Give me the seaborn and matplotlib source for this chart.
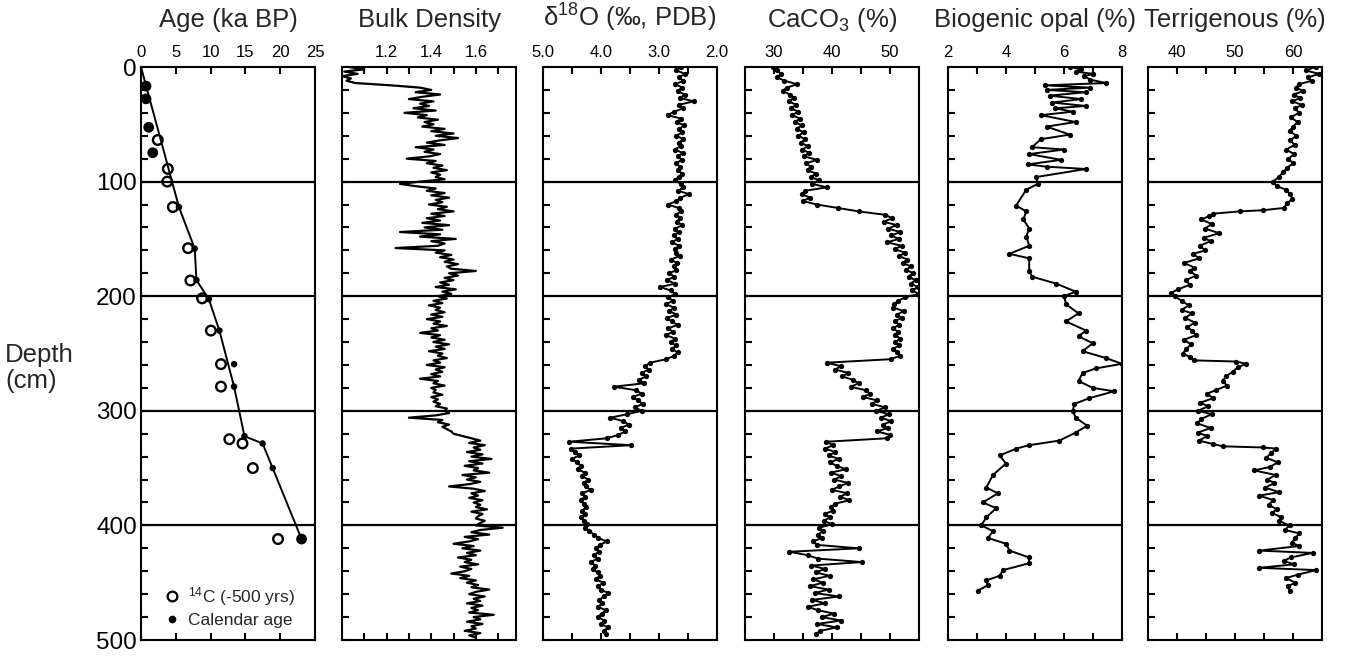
import numpy as np
import matplotlib.pyplot as plt
from matplotlib.lines import Line2D
import seaborn as sns

sns.set_style("ticks")
plt.rcParams['font.family'] = ['Liberation Sans', 'DejaVu Sans']
plt.rcParams['mathtext.fontset'] = 'custom'
plt.rcParams['mathtext.rm'] = 'Liberation Sans'

# ---- age model ----
c14_depth = [63.7, 88.9, 100, 122.2, 158.1, 186.3, 201.9, 230, 259.3, 278.9, 324.8, 328.5, 350, 411.9]
c14_age = [2.41, 3.86, 3.77, 4.58, 6.76, 7.1, 8.78, 10.04, 11.49, 11.49, 12.69, 14.58, 16.07, 19.69]
cal_depth = [16.7, 27.8, 52.6, 74.8, 122.2, 158.5, 185.9, 202.6, 230, 259.3, 278.9, 322.2, 328.5, 350, 411.9]
cal_age = [0.72, 0.72, 1.11, 1.69, 5.45, 7.72, 7.96, 9.75, 11.26, 13.37, 13.37, 14.87, 17.47, 18.92, 23.07]
model_depth = [0, 122.2, 158.5, 185.9, 202.6, 230, 278.9, 322.2, 328.5, 350, 411.9]
model_age = [0, 5.45, 7.72, 7.96, 9.75, 11.26, 13.37, 14.87, 17.47, 18.92, 23.07]

# ---- bulk density (every 2 cm) ----
bulk_depth = list(range(0, 500, 2))
bulk = [
    1.03, 1.10, 1.01, 1.07, 1.00, 1.04, 1.02, 1.06, 1.22, 1.35,
    1.40, 1.33, 1.44, 1.36, 1.30, 1.41, 1.35, 1.39, 1.32, 1.42,
    1.28, 1.38, 1.34, 1.43, 1.37, 1.41, 1.36, 1.46, 1.40, 1.50,
    1.42, 1.52, 1.44, 1.38, 1.46, 1.33, 1.41, 1.37, 1.44, 1.39,
    1.29, 1.42, 1.38, 1.45, 1.41, 1.47, 1.40, 1.44, 1.42, 1.46,
    1.35, 1.26, 1.33, 1.42, 1.38, 1.46, 1.40, 1.48, 1.42, 1.45,
    1.39, 1.47, 1.43, 1.50, 1.40, 1.46, 1.38, 1.44, 1.36, 1.48,
    1.37, 1.45, 1.26, 1.44, 1.35, 1.51, 1.40, 1.46, 1.43, 1.24,
    1.46, 1.42, 1.49, 1.44, 1.50, 1.46, 1.52, 1.47, 1.49, 1.60,
    1.48, 1.52, 1.46, 1.50, 1.44, 1.48, 1.42, 1.51, 1.45, 1.49,
    1.43, 1.47, 1.41, 1.45, 1.39, 1.44, 1.42, 1.46, 1.40, 1.45,
    1.38, 1.44, 1.41, 1.47, 1.40, 1.43, 1.35, 1.44, 1.40, 1.46,
    1.41, 1.48, 1.42, 1.46, 1.39, 1.45, 1.43, 1.47, 1.41, 1.44,
    1.38, 1.46, 1.42, 1.45, 1.40, 1.44, 1.35, 1.43, 1.41, 1.46,
    1.40, 1.42, 1.41, 1.45, 1.40, 1.43, 1.41, 1.44, 1.42, 1.47,
    1.46, 1.48, 1.42, 1.30, 1.45, 1.43, 1.48, 1.45, 1.47, 1.49,
    1.50, 1.54, 1.58, 1.62, 1.57, 1.64, 1.59, 1.62, 1.56, 1.63,
    1.58, 1.67, 1.57, 1.63, 1.55, 1.61, 1.59, 1.66, 1.54, 1.60,
    1.56, 1.62, 1.57, 1.48, 1.59, 1.64, 1.58, 1.61, 1.57, 1.63,
    1.59, 1.62, 1.60, 1.65, 1.58, 1.63, 1.61, 1.60, 1.64, 1.62,
    1.60, 1.72, 1.62, 1.58, 1.66, 1.55, 1.61, 1.57, 1.50, 1.59,
    1.54, 1.62, 1.56, 1.60, 1.52, 1.58, 1.55, 1.61, 1.53, 1.58,
    1.55, 1.49, 1.57, 1.53, 1.60, 1.56, 1.61, 1.58, 1.66, 1.60,
    1.57, 1.64, 1.59, 1.62, 1.56, 1.63, 1.58, 1.61, 1.57, 1.68,
    1.59, 1.62, 1.56, 1.63, 1.58, 1.60, 1.55, 1.62, 1.57, 1.60,
]

# ---- d18O (every 3 cm) ----
d18o_depth = list(range(0, 496, 3))
d18o = [
    2.62, 2.70, 2.55, 2.66, 2.58, 2.72, 2.60, 2.68, 2.56, 2.64,
    2.40, 2.66, 2.58, 2.74, 2.85, 2.62, 2.69, 2.57, 2.65, 2.60,
    2.70, 2.58, 2.66, 2.62, 2.73, 2.59, 2.67, 2.61, 2.70, 2.64,
    2.68, 2.60, 2.66, 2.73, 2.62, 2.58, 2.67, 2.48, 2.63, 2.70,
    2.85, 2.66, 2.62, 2.71, 2.64, 2.69, 2.60, 2.72, 2.66, 2.74,
    2.68, 2.78, 2.65, 2.73, 2.70, 2.64, 2.80, 2.69, 2.75, 2.70,
    2.82, 2.74, 2.86, 2.72, 2.98, 2.80, 2.72, 2.84, 2.76, 2.88,
    2.74, 2.82, 2.70, 2.86, 2.78, 2.68, 2.84, 2.76, 2.88, 2.72,
    2.80, 2.70, 2.78, 2.68, 2.74, 2.88, 3.15, 3.24, 3.18, 3.30,
    3.22, 3.35, 3.26, 3.78, 3.40, 3.30, 3.45, 3.36, 3.28, 3.42,
    3.30, 3.55, 3.84, 3.62, 3.52, 3.66, 3.58, 3.70, 3.90, 4.55,
    3.48, 4.52, 4.45, 4.38, 4.50, 4.42, 4.35, 4.40, 4.28, 4.33,
    4.22, 4.30, 4.26, 4.18, 4.32, 4.28, 4.35, 4.30, 4.26, 4.32,
    4.28, 4.34, 4.30, 4.25, 4.27, 4.20, 4.12, 4.05, 3.90, 4.02,
    4.08, 4.04, 4.12, 4.06, 4.18, 4.10, 4.14, 4.06, 4.02, 4.09,
    3.96, 4.05, 4.00, 3.88, 3.95, 4.03, 3.98, 4.05, 3.92, 3.98,
    4.06, 3.94, 4.00, 3.88, 3.95, 3.92,
]

# ---- CaCO3 (every 3 cm) ----
caco3_depth = list(range(0, 496, 3))
caco3 = [
    29.8, 30.6, 31.2, 30.5, 31.8, 34.0, 32.2, 31.5, 32.8, 33.4,
    32.6, 33.8, 32.9, 34.2, 33.1, 34.5, 33.6, 34.8, 33.9, 35.1,
    34.2, 35.4, 34.6, 35.8, 34.9, 36.0, 35.2, 37.4, 35.6, 36.3,
    35.8, 37.2, 36.4, 37.8, 36.6, 39.1, 35.4, 34.8, 36.2, 35.0,
    37.4, 41.0, 44.6, 49.2, 50.4, 48.9, 51.2, 49.6, 51.8, 50.2,
    51.5, 49.5, 52.0, 50.8, 52.6, 51.6, 53.0, 52.2, 53.6, 52.8,
    54.0, 53.2, 54.4, 53.6, 54.8, 53.8, 55.0, 52.6, 51.4, 50.7,
    50.6, 52.4, 51.2, 52.0, 50.8, 51.6, 50.5, 51.4, 50.9, 51.8,
    50.8, 51.5, 50.6, 51.2, 51.8, 50.1, 39.1, 41.5, 40.6, 42.8,
    41.8, 43.6, 44.6, 43.2, 45.8, 46.6, 45.4, 47.8, 46.9, 49.2,
    47.6, 49.8, 48.4, 50.2, 48.8, 49.6, 47.8, 50.0, 49.4, 39.0,
    40.2, 38.8, 40.6, 39.4, 41.2, 39.6, 40.8, 42.4, 39.8, 41.6,
    40.4, 42.8, 41.2, 40.0, 42.6, 41.4, 43.0, 40.6, 39.8, 40.2,
    38.8, 39.6, 38.6, 40.0, 37.8, 38.4, 37.6, 38.2, 36.8, 37.4,
    44.6, 32.6, 35.8, 37.6, 45.2, 36.4, 38.8, 37.2, 39.6, 36.8,
    38.4, 36.2, 39.4, 37.0, 41.2, 36.6, 38.8, 35.8, 37.6, 40.4,
    38.2, 41.6, 37.4, 40.8, 38.0, 37.2,
]

# ---- biogenic opal ----
opal_depth = [0, 2, 4, 6, 8, 11, 14, 16, 18, 20, 22, 25, 28, 31, 34, 36, 39, 42, 48, 52,
              59, 63, 70, 72, 76, 81, 85, 87, 89, 96, 102, 107, 121, 126, 133, 141, 148, 156, 163, 167,
              178, 183, 189, 196, 200, 207, 215, 222, 230, 235, 241, 248, 254, 259, 263, 267, 274, 280, 283, 289,
              294, 300, 306, 313, 319, 326, 330, 333, 339, 346, 356, 367, 372, 380, 385, 393, 400, 405, 411, 416,
              422, 428, 433, 439, 444, 448, 452, 457]
opal = [6.2, 6.6, 6.4, 7.0, 6.7, 6.9, 7.45, 5.35, 6.9, 5.4, 6.75, 5.5, 6.6, 5.6, 6.75, 5.7, 6.3, 5.2, 6.4, 5.4,
        6.2, 5.2, 4.9, 6.0, 4.8, 5.9, 4.75, 5.4, 6.76, 5.05, 5.1, 4.7, 4.35, 4.7, 4.6, 4.8, 4.7, 4.8, 4.12, 4.8,
        4.8, 4.9, 5.73, 6.4, 6.0, 6.07, 6.5, 6.07, 6.76, 6.5, 6.99, 6.64, 7.45, 8.0, 7.1, 6.64, 6.5, 6.99, 7.73, 6.87,
        6.36, 6.3, 6.4, 6.8, 6.4, 5.84, 4.8, 4.35, 3.78, 4.0, 3.55, 3.32, 3.72, 3.2, 3.66, 3.32, 3.15, 3.55, 3.38, 4.0,
        4.12, 4.8, 4.8, 3.9, 3.78, 3.32, 3.38, 3.03]

# ---- terrigenous ----
terr_depth = [0, 3, 6, 9, 12, 15, 18, 21, 24, 27, 30, 33, 36, 40, 44, 48, 52, 56, 60, 64,
              68, 72, 76, 80, 84, 88, 92, 96, 100, 104, 107, 111, 115, 119, 123, 125, 126, 128, 130, 133,
              137, 141, 145, 149, 152, 156, 160, 163, 167, 171, 175, 178, 182, 186, 190, 194, 197, 200, 204, 208,
              212, 215, 219, 223, 227, 230, 234, 238, 242, 246, 250, 253, 256, 257, 259, 262, 266, 270, 274, 278,
              282, 285, 289, 293, 296, 300, 303, 307, 311, 315, 319, 322, 326, 329, 331, 332, 333, 337, 341, 345,
              349, 352, 356, 360, 363, 367, 371, 374, 378, 382, 386, 389, 393, 396, 400, 404, 407, 411, 415, 418,
              422, 424, 428, 431, 434, 437, 439, 443, 446, 450, 453, 457]
terr = [63.9, 62.2, 64.5, 62.6, 63.2, 61.1, 60.5, 61.8, 60.1, 61.2, 59.9, 61.5, 60.4, 61.0, 59.6, 60.8, 60.0, 59.4, 60.6, 59.5,
        60.3, 58.8, 60.2, 59.2, 60.0, 59.0, 58.2, 57.6, 56.5, 57.2, 58.8, 59.5, 59.9, 59.0, 58.4, 54.8, 50.8, 46.2, 45.6, 44.2,
        46.0, 44.8, 47.3, 44.6, 45.8, 43.9, 44.9, 42.8, 43.8, 41.2, 43.0, 42.2, 43.3, 41.5, 42.2, 40.2, 39.0, 39.6, 40.8, 42.0,
        40.8, 42.6, 41.4, 43.1, 41.8, 42.6, 43.3, 41.2, 42.4, 41.6, 41.0, 42.2, 43.0, 50.2, 51.9, 50.5, 49.6, 48.4, 47.9, 48.6,
        46.7, 45.2, 46.2, 44.0, 45.4, 43.6, 46.0, 44.2, 43.5, 45.8, 43.6, 45.2, 43.8, 46.2, 47.9, 54.8, 57.1, 56.2, 55.4, 57.4,
        56.0, 53.3, 57.0, 55.6, 56.8, 55.2, 57.6, 54.2, 56.6, 55.8, 57.2, 56.4, 58.0, 57.6, 59.4, 58.6, 61.1, 60.4, 59.8, 61.0,
        54.2, 63.4, 59.6, 58.4, 60.2, 54.2, 64.0, 60.8, 58.8, 60.4, 59.2, 59.4]

fig = plt.figure(figsize=(13.61, 6.63), dpi=100)
W, H = 1361, 663
top, bot = 67, 640
lefts = [141, 342, 543, 745, 948, 1148]
width = 174

panels = [
    dict(title="Age (ka BP)", xlim=(0, 25), ticks=[0, 5, 10, 15, 20, 25],
         labels=["0", "5", "10", "15", "20", "25"]),
    dict(title="Bulk Density", xlim=(1.0, 1.78), ticks=[1.1, 1.2, 1.3, 1.4, 1.5, 1.6, 1.7],
         labels=["", "1.2", "", "1.4", "", "1.6", ""]),
    dict(title=r"δ$\mathregular{^{18}}$O (‰, PDB)", xlim=(5.0, 2.0),
         ticks=[5.0, 4.5, 4.0, 3.5, 3.0, 2.5, 2.0], labels=["5.0", "", "4.0", "", "3.0", "", "2.0"]),
    dict(title=r"CaCO$\mathregular{_3}$ (%)", xlim=(25, 55), ticks=[30, 35, 40, 45, 50],
         labels=["30", "", "40", "", "50"]),
    dict(title="Biogenic opal (%)", xlim=(2, 8), ticks=[2, 3, 4, 5, 6, 7, 8],
         labels=["2", "", "4", "", "6", "", "8"]),
    dict(title="Terrigenous (%)", xlim=(35, 65), ticks=[40, 45, 50, 55, 60],
         labels=["40", "", "50", "", "60"]),
]

axes = []
for i, p in enumerate(panels):
    ax = fig.add_axes([lefts[i] / W, 1 - bot / H, width / W, (bot - top) / H])
    axes.append(ax)
    ax.set_xlim(*p["xlim"])
    ax.set_ylim(500, 0)
    ax.set_xticks(p["ticks"])
    ax.set_xticklabels(p["labels"])
    ax.set_yticks(range(0, 501, 20))
    ax.set_yticklabels([str(d) if d % 100 == 0 else "" for d in range(0, 501, 20)])
    ax.tick_params(axis="x", which="both", direction="in", top=True, bottom=True,
                   labeltop=True, labelbottom=False, length=5, width=1.5, pad=5,
                   labelsize=12, colors="black")
    ax.tick_params(axis="y", direction="in", left=True, right=False, length=5, width=1.5,
                   labelleft=(i == 0), labelsize=17.5, pad=3, colors="black")
    for s in ax.spines.values():
        s.set_visible(True)
        s.set_linewidth(1.5)
        s.set_color("black")
    for d in [100, 200, 300, 400]:
        ax.axhline(d, color="black", lw=1.6, zorder=1)
    ax.set_title(p["title"], y=1 + 40 / (bot - top), pad=0, fontsize=18.5)

line_kw = dict(sort=False, estimator=None, color="black", lw=1.4)
dot_kw = dict(marker="o", markersize=3.8, markeredgewidth=0)

# age panel
ax = axes[0]
sns.lineplot(x=model_age, y=model_depth, ax=ax, **line_kw)
sns.scatterplot(x=c14_age, y=c14_depth, ax=ax, s=48, facecolor="none",
                edgecolor="black", linewidth=1.7, zorder=3)
big = [0, 1, 2, 3, 14]
sns.scatterplot(x=[cal_age[k] for k in big], y=[cal_depth[k] for k in big], ax=ax,
                s=60, color="black", edgecolor="none", zorder=3)
small = [k for k in range(len(cal_age)) if k not in big]
sns.scatterplot(x=[cal_age[k] for k in small], y=[cal_depth[k] for k in small], ax=ax,
                s=22, color="black", edgecolor="none", zorder=3)
handles = [Line2D([], [], ls="none", marker="o", markersize=7, markerfacecolor="none",
                  markeredgecolor="black", markeredgewidth=1.6),
           Line2D([], [], ls="none", marker="o", markersize=4.5, color="black")]
ax.legend(handles, [r"$\mathregular{^{14}}$C (-500 yrs)", "Calendar age"], loc="lower left",
          bbox_to_anchor=(0.08, 0.005), frameon=False, fontsize=12.5, handlelength=1.0,
          handletextpad=0.4, labelspacing=0.3, borderpad=0)

sns.lineplot(x=bulk, y=bulk_depth, ax=axes[1], **dict(line_kw, lw=1.6))
sns.lineplot(x=d18o, y=d18o_depth, ax=axes[2], **line_kw, **dot_kw)
sns.lineplot(x=caco3, y=caco3_depth, ax=axes[3], **line_kw, **dot_kw)
sns.lineplot(x=opal, y=opal_depth, ax=axes[4], **line_kw, **dot_kw)
sns.lineplot(x=terr, y=terr_depth, ax=axes[5], **line_kw, **dot_kw)

for ax in axes:
    ax.set_xlabel("")
    ax.set_ylabel("")

fig.text(5 / W, 1 - 368 / H, "Depth\n(cm)", ha="left", va="center", fontsize=18.5,
         linespacing=1.1)

fig.savefig("out.png", dpi=100)
